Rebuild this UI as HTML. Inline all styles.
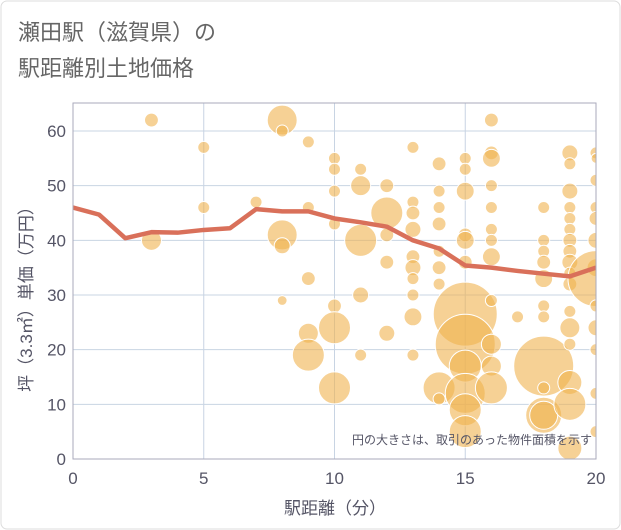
<!DOCTYPE html>
<html><head><meta charset="utf-8"><style>
body{margin:0;background:#fff;font-family:"Liberation Sans","Noto Sans CJK JP",sans-serif}
#wrap{position:relative;width:621px;height:530px;overflow:hidden}
</style></head><body>
<div id="wrap">
<svg id="chart" width="621" height="530" xmlns="http://www.w3.org/2000/svg">
<defs><clipPath id="pc"><rect x="73" y="103" width="523" height="356"/></clipPath></defs>
<rect x="1" y="1" width="619" height="528" rx="6" fill="#fff" stroke="#ddd"/>
<text x="18" y="40" font-size="22" fill="#666">瀬田駅（滋賀県）の</text>
<text x="18" y="76" font-size="22" fill="#666">駅距離別土地価格</text>
<g id="grid"></g>
<g id="bubbles" clip-path="url(#pc)"></g>
<g id="line" clip-path="url(#pc)"></g>
<g id="axes"></g>
<text x="592" y="444" font-size="12" fill="#556" text-anchor="end">円の大きさは、取引のあった物件面積を示す</text>
<text x="335" y="514" font-size="17" fill="#556" text-anchor="middle">駅距離（分）</text>
<text transform="translate(32,295) rotate(-90)" font-size="17" fill="#556" text-anchor="middle">坪（3.3㎡）単価（万円）</text>
</svg>
</div>
<script>
const xTicks=[0,5,10,15,20];
const yTicks=[0,10,20,30,40,50,60];
const lineX=[0,1,2,3,4,5,6,7,8,9,10,11,12,13,14,15,16,17,18,19,20];
const lineY=[46,44.7,40.4,41.5,41.4,41.9,42.2,45.7,45.3,45.3,44,43.3,42.5,40,38.5,35.4,35,34.4,33.9,33.4,35];
const bubbleX=[3,3,5,5,7,8,8,8,8,8,9,9,9,9,9,10,10,10,10,10,10,10,11,11,11,11,11,12,12,12,12,12,13,13,13,13,13,13,13,13,13,13,14,14,14,14,14,14,14,14,14,15,15,15,15,15,15,15,15,15,15,15,15,16,16,16,16,16,16,16,16,16,16,16,16,17,18,18,18,18,18,18,18,18,18,18,18,19,19,19,19,19,19,19,19,19,19,19,19,19,19,19,19,19,20,20,20,20,20,20,20,20,20,20,20,20,20];
const bubbleY=[62,40,57,46,47,62,60,41,39,29,58,46,33,23,19,55,53,49,43,28,24,13,53,50,40,30,19,50,45,41,36,23,57,47,45,42,37,35,33,30,26,19,54,49,46,43,38,35,32,13,11,55,53,49,41,40,36,26.5,21,17,12,9,5,62,56,55,50,46,42,40,37,29,21,17,13,26,46,40,38,36,33,28,26,17,13,8,8,56,54,49,46,44,42,40,38,36,34,32,27,24,21,14,10,2,56,55,51,46,44,40,35,33,28,24,20,12,5];
const bubbleArea=[12,25,9,9,9,56,9,56,16,6,9,9,12,25,64,9,9,9,9,12,64,64,9,25,64,16,9,12,64,12,12,16,9,9,12,16,12,16,9,9,20,9,12,9,9,12,9,12,9,64,9,9,9,20,12,20,12,256,225,64,100,64,64,12,12,20,9,9,9,9,20,9,25,25,64,9,9,9,9,12,20,9,9,225,9,81,49,16,9,16,9,9,9,12,12,16,9,12,9,25,9,36,64,36,9,6,9,9,12,16,20,196,9,16,9,9,9];
const X0=73,X1=596,Y0=459,Y1=131;
const sx=v=>X0+(v-0)/20*(X1-X0);
const sy=v=>Y0-(v-0)/60*(Y0-Y1);
const NS="http://www.w3.org/2000/svg";
function mk(tag,attrs,parent){const e=document.createElementNS(NS,tag);for(const k in attrs)e.setAttribute(k,attrs[k]);parent.appendChild(e);return e;}
const grid=document.getElementById('grid'),axes=document.getElementById('axes');
xTicks.forEach(t=>{
 const l=mk('line',{x1:sx(t),x2:sx(t),y1:103,y2:Y0,stroke:'#c8d4e3','stroke-width':1},grid);
 
 
 const tx=mk('text',{x:sx(t),y:484,'font-size':17,fill:'#556','text-anchor':'middle'},axes);
 tx.textContent=t;
 
 
});
yTicks.forEach(t=>{
 const l=mk('line',{x1:X0,x2:X1,y1:sy(t),y2:sy(t),stroke:'#c8d4e3','stroke-width':1},grid);
 
 
 const tx=mk('text',{x:66,y:sy(t)+6,'font-size':17,fill:'#556','text-anchor':'end'},axes);
 tx.textContent=t;
 
 
});
const pb=mk('rect',{x:X0,y:103,width:X1-X0,height:Y0-103,fill:'none',stroke:'#aab','stroke-width':1},axes);


const bg=document.getElementById('bubbles');
bubbleX.forEach((x,i)=>{
 const c=mk('circle',{cx:sx(x),cy:sy(bubbleY[i]),r:Math.sqrt(bubbleArea[i])*2,fill:'#f0b24f','fill-opacity':0.6,stroke:'#fff','stroke-width':1},bg);
 
 
});
const p=mk('polyline',{points:lineX.map((x,i)=>sx(x)+','+sy(lineY[i])).join(' '),fill:'none',stroke:'#d9705a','stroke-width':4.5,'stroke-linejoin':'round'},document.getElementById('line'));


</script>
</body></html>
